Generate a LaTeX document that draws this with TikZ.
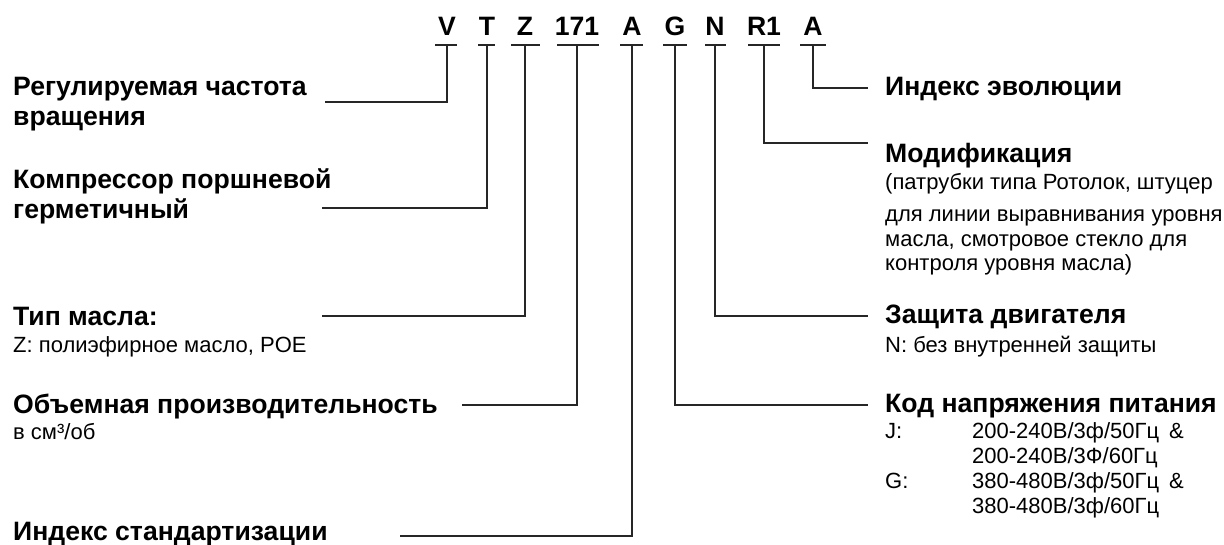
\documentclass[tikz,border=0pt]{standalone}
\usepackage{fontspec}
\setmainfont{Liberation Sans}
\begin{document}
\begin{tikzpicture}[x=1pt,y=-1pt]
\tikzset{
  hd/.style={font=\fontsize{26.6}{30}\selectfont\bfseries, inner sep=0pt, anchor=base west},
  sub/.style={font=\fontsize{22}{25}\selectfont, inner sep=0pt, anchor=base west},
  codeletter/.style={font=\fontsize{26.6}{30}\selectfont\bfseries, inner sep=0pt, anchor=base},
  bar/.style={line width=1.5pt, draw=black!85},
  lead/.style={line width=1.4pt, draw=black!85},
}
\useasboundingbox (0,0) rectangle (1224,544);
% code letters
\node[codeletter] (cV)  at (447,35) {V};
\node[codeletter] (cT)  at (487,35) {T};
\node[codeletter] (cZ)  at (525,35) {Z};
\node[codeletter] (c171) at (577,35) {171};
\node[codeletter] (cA)  at (632,35) {A};
\node[codeletter] (cG)  at (675,35) {G};
\node[codeletter] (cN)  at (715,35) {N};
\node[codeletter] (cR)  at (764,35) {R1};
\node[codeletter] (cE)  at (813,35) {A};
% bars
\coordinate (bV) at (447,45);  \draw[bar] (435,45) -- (457,45);
\coordinate (bT) at (487,45);  \draw[bar] (478,45) -- (495,45);
\coordinate (bZ) at (525,45);  \draw[bar] (511,45) -- (540,45);
\coordinate (b171) at (577,45); \draw[bar] (557,45) -- (599,45);
\coordinate (bA) at (632,45);  \draw[bar] (620,45) -- (643,45);
\coordinate (bG) at (675,45);  \draw[bar] (663,45) -- (687,45);
\coordinate (bN) at (715,45);  \draw[bar] (705,45) -- (726,45);
\coordinate (bR) at (764,45);  \draw[bar] (748,45) -- (780,45);
\coordinate (bE) at (813,45);  \draw[bar] (800,45) -- (826,45);
% left labels
\node[hd] (lV1) at (13,95) {Регулируемая частота};
\node[hd] (lV2) at (13,125) {вращения};
\node[hd] (lT1) at (13,188) {Компрессор поршневой};
\node[hd] (lT2) at (13,218) {герметичный};
\node[hd] (lZ1) at (13,325) {Тип масла:};
\node[sub] (lZ2) at (13,352) {Z: полиэфирное масло, POE};
\node[hd] (l1711) at (13,413) {Объемная производительность};
\node[sub] (l1712) at (13,439) {в см³/об};
\node[hd] (lA1) at (13,540) {Индекс стандартизации};
% right labels
\node[hd] (rE1) at (885,95) {Индекс эволюции};
\node[hd] (rR1) at (885,162) {Модификация};
\node[sub] (rR2) at (885,189) {(патрубки типа Ротолок, штуцер};
\node[sub] (rR3) at (885,221) {для линии выравнивания\hspace{0.3em}уровня};
\node[sub] (rR4) at (885,246) {масла, смотровое стекло для};
\node[sub] (rR5) at (885,270) {контроля уровня масла)};
\node[hd] (rN1) at (885,323) {Защита двигателя};
\node[sub] (rN2) at (885,352) {N: без внутренней защиты};
\node[hd] (rG1) at (885,412) {Код напряжения питания};
\node[sub] (rGJ) at (885,438) {J:};
\node[sub] (rGJa) at (972,438) {200-240В/3ф/50Гц\hspace{0.45em}\&};
\node[sub] (rGJb) at (972,463) {200-240В/3Ф/60Гц};
\node[sub] (rGG) at (885,488) {G:};
\node[sub] (rGGa) at (972,488) {380-480В/3ф/50Гц\hspace{0.45em}\&};
\node[sub] (rGGb) at (972,513) {380-480В/3ф/60Гц};
% leader end coordinates
\coordinate (eV) at (325,102);
\coordinate (eT) at (322,208);
\coordinate (eZ) at (322,316);
\coordinate (e171) at (462,405);
\coordinate (eA) at (400,536);
\coordinate (eG) at (868,405);
\coordinate (eN) at (868,316);
\coordinate (eR) at (868,143);
\coordinate (eE) at (868,88);
% leaders
\draw[lead] (bV) |- (eV);
\draw[lead] (bT) |- (eT);
\draw[lead] (bZ) |- (eZ);
\draw[lead] (b171) |- (e171);
\draw[lead] (bA) |- (eA);
\draw[lead] (bG) |- (eG);
\draw[lead] (bN) |- (eN);
\draw[lead] (bR) |- (eR);
\draw[lead] (bE) |- (eE);
\end{tikzpicture}
\end{document}
